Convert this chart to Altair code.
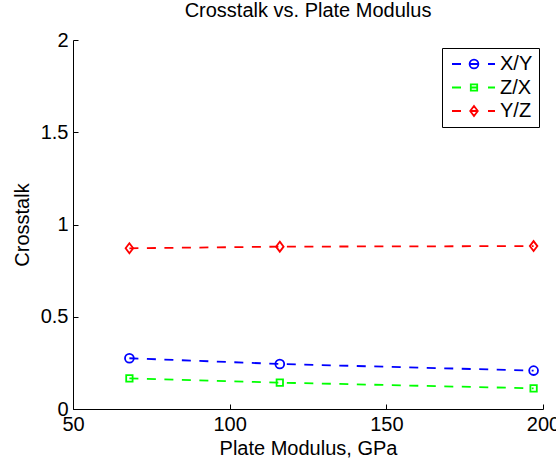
import altair as alt
import pandas as pd

# ---- data ----
series_names = ["X/Y", "Z/X", "Y/Z"]
modulus = [68, 116, 197]
xy_vals = [0.275, 0.244, 0.208]
zx_vals = [0.166, 0.143, 0.112]
yz_vals = [0.871, 0.880, 0.883]
x_ticks = [50, 100, 150, 200]
y_ticks = [0, 0.5, 1, 1.5, 2]
colors = ["#0000ff", "#00ff00", "#ff0000"]

rows = []
for name, vals in zip(series_names, [xy_vals, zx_vals, yz_vals]):
    for m, v in zip(modulus, vals):
        rows.append({"modulus": m, "crosstalk": v, "series": name})
df = pd.DataFrame(rows)

FONT = "Liberation Sans"
FS = 20

xscale = alt.Scale(domain=[50, 200], nice=False, zero=False)
yscale = alt.Scale(domain=[0, 2], nice=False, zero=False)
cscale = alt.Scale(domain=series_names, range=colors)

marker_paths = [
    "M-1.1,0A1.1,1.1 0 1,0 1.1,0A1.1,1.1 0 1,0 -1.1,0Z",
    "M-0.8,-0.8L0.8,-0.8L0.8,0.8L-0.8,0.8Z",
    "M0,-1.25L0.95,0L0,1.25L-0.95,0Z",
]
dash = "M-5.5,0L-3.25,0M3.5,0L5.25,0M-1,0L1,0"
legend_paths = [dash + p for p in marker_paths]

axis_main_x = alt.Axis(values=x_ticks, ticks=False, domain=True, domainColor="black",
                       domainWidth=1, labelFont=FONT, labelFontSize=FS, labelColor="black",
                       labelPadding=5, labelFlush=False, labelOverlap=False,
                       title="Plate Modulus, GPa", titleFont=FONT, titleFontSize=FS,
                       titleFontWeight="normal", titleColor="black", titlePadding=4,
                       grid=False, orient="bottom")
axis_main_y = alt.Axis(values=y_ticks, ticks=False, domain=True, domainColor="black",
                       domainWidth=1, labelFont=FONT, labelFontSize=FS, labelColor="black",
                       labelPadding=5, labelFlush=False, labelOverlap=False, format="~g",
                       title="Crosstalk", titleFont=FONT, titleFontSize=FS,
                       titleFontWeight="normal", titleColor="black", titlePadding=8,
                       grid=False, orient="left")
axis_tick_x = alt.Axis(values=x_ticks, ticks=True, tickSize=5, tickColor="black", tickWidth=1,
                       labels=False, domain=False, grid=False, title=None, offset=-5,
                       orient="bottom")
axis_tick_y = alt.Axis(values=y_ticks, ticks=True, tickSize=5, tickColor="black", tickWidth=1,
                       labels=False, domain=False, grid=False, title=None, offset=-5,
                       orient="left")

leg = alt.Legend(orient="none", legendX=369, legendY=8, title=None, strokeColor="black",
                 fillColor="white", padding=6, symbolSize=64, symbolStrokeWidth=1.8,
                 symbolOpacity=1, labelFont=FONT, labelFontSize=FS, labelColor="black",
                 labelOffset=16, symbolOffset=16, rowPadding=3.5, cornerRadius=0)

lines = alt.Chart(df).mark_line(strokeDash=[9, 8.5], strokeWidth=1.8).encode(
    x=alt.X("modulus:Q", scale=xscale, axis=axis_main_x),
    y=alt.Y("crosstalk:Q", scale=yscale, axis=axis_main_y),
    color=alt.Color("series:N", scale=cscale, legend=None),
)

points = alt.Chart(df).mark_point(filled=False, strokeWidth=1.8, size=64, opacity=1).encode(
    x=alt.X("modulus:Q", scale=xscale, axis=axis_tick_x),
    y=alt.Y("crosstalk:Q", scale=yscale, axis=axis_tick_y),
    color=alt.Color("series:N", scale=cscale, legend=None),
    shape=alt.Shape("series:N", scale=alt.Scale(domain=series_names, range=marker_paths),
                    legend=None),
)

legend_layer = alt.Chart(df).mark_point(filled=False, opacity=0, size=64).encode(
    x=alt.X("modulus:Q", scale=xscale, axis=None),
    y=alt.Y("crosstalk:Q", scale=yscale, axis=None),
    color=alt.Color("series:N", scale=cscale, legend=leg),
    shape=alt.Shape("series:N", scale=alt.Scale(domain=series_names, range=legend_paths),
                    legend=leg),
)

chart = alt.layer(lines, points, legend_layer).resolve_scale(
    shape="independent", color="independent"
).resolve_axis(
    x="independent", y="independent"
).properties(
    width=470, height=369,
    autosize=alt.AutoSizeParams(type="none"),
    padding={"left": 73, "top": 40, "right": 13, "bottom": 56},
    background="white",
    title=alt.TitleParams("Crosstalk vs. Plate Modulus", font=FONT, fontSize=FS,
                          fontWeight="normal", color="black", offset=9, anchor="middle"),
).configure_view(stroke=None)

chart.save("out.html", embed_options={"renderer": "svg", "actions": False})
